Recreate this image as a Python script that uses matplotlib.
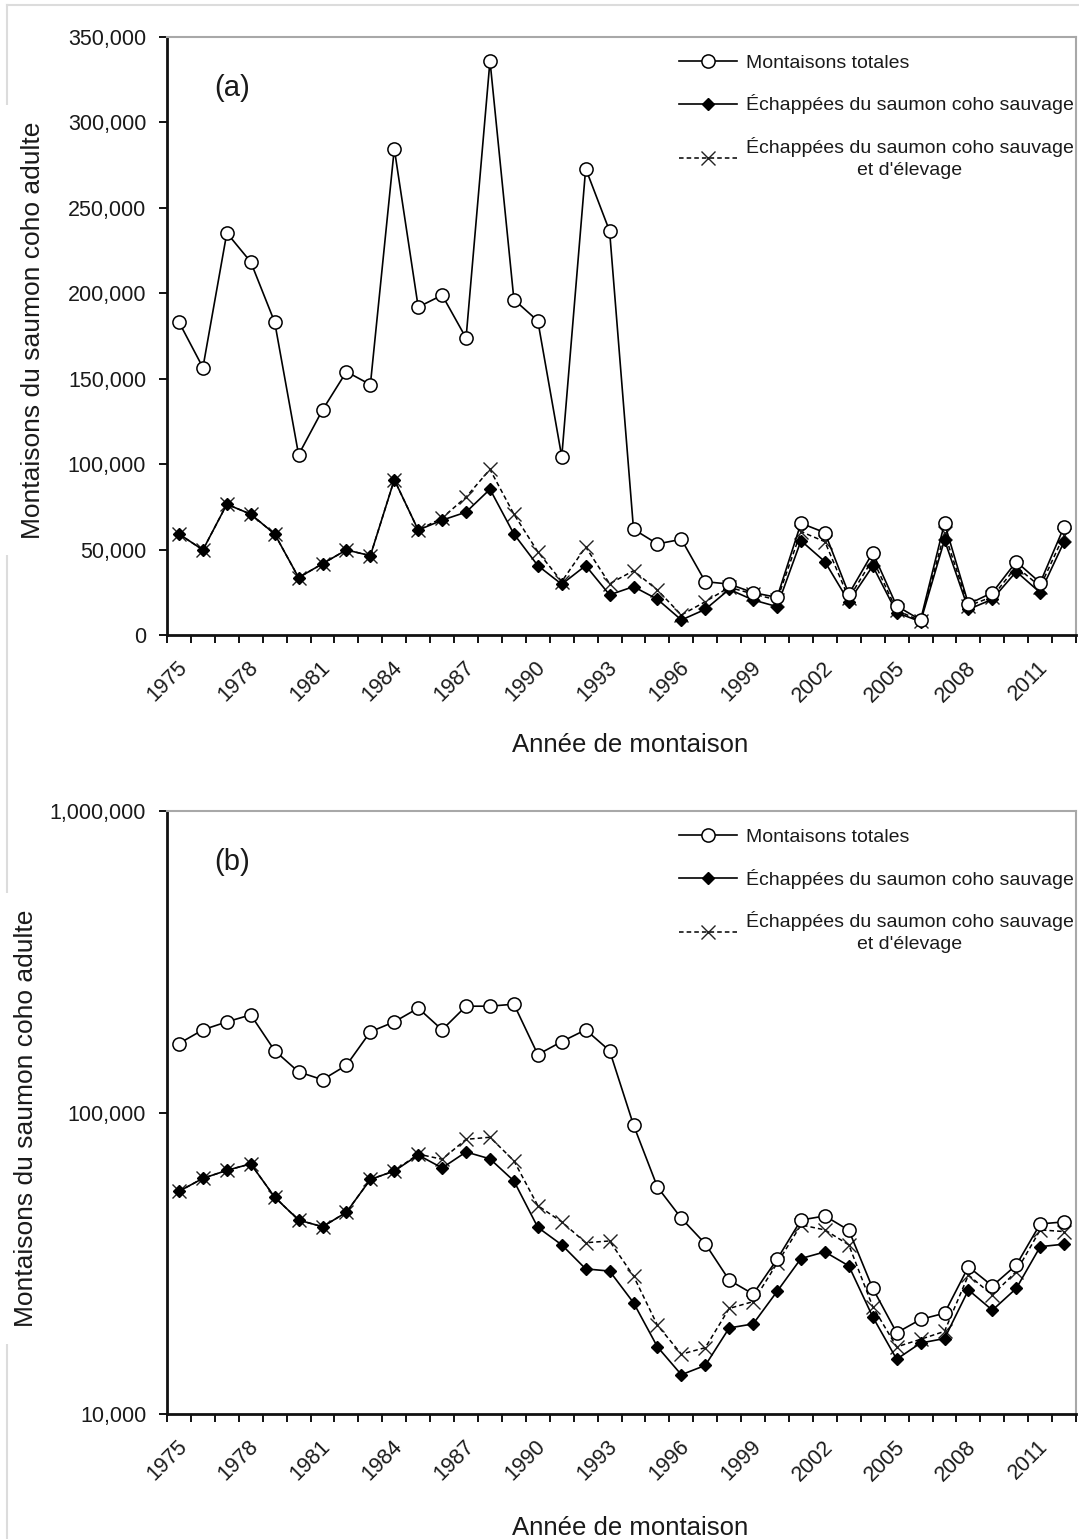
import numpy as np
import matplotlib.pyplot as plt
from matplotlib.ticker import FixedLocator, FuncFormatter, NullLocator, NullFormatter

plt.rcParams['font.family'] = ['Liberation Sans', 'DejaVu Sans']

# Years of return (one category per year)
years = list(range(1975, 2013))

# (a) linear scale
total_a = [183100, 156500, 235300, 218300, 183100, 105500, 131700, 154100, 146500, 284600,
           191900, 198900, 173800, 336100, 196300, 183800, 104300, 273000, 236400,
           61900, 53300, 56000, 31200, 29800, 24800, 22000, 65400, 59900, 24000, 48200,
           17000, 8800, 65400, 18100, 24800, 42900, 30600, 63400]
wild_a = [59100, 49800, 76500, 70700, 59100, 33600, 41700, 49800, 46400, 90900,
          61400, 67200, 71900, 85300, 59100, 40600, 29700, 40600, 23500,
          28300, 20900, 8800, 15000, 26700, 20500, 16600, 55200, 42900, 19500, 40400,
          13100, 7800, 55600, 15000, 20900, 37100, 24800, 54600]
both_a = [59100, 49800, 76500, 70700, 59100, 33600, 41700, 49800, 46400, 90900,
          61400, 68500, 80700, 96900, 70700, 48700, 31300, 51500, 30000,
          37600, 26300, 11700, 19500, 27900, 24000, 20500, 60500, 54600, 21500, 44300,
          14500, 8200, 59500, 17000, 22400, 40000, 28300, 58500]

# (b) log scale
total_b = [169400, 188100, 199900, 210900, 160400, 136400, 128500, 143500, 185300, 199900,
           222000, 188100, 225300, 225300, 228800, 155700, 171900, 188100, 160400,
           90900, 56600, 44600, 36700, 27800, 25000, 32600, 44000, 45400, 40700, 26100,
           18600, 20600, 21600, 30800, 26600, 31200, 42700, 43400]
wild_b = [54800, 60500, 64300, 67600, 52400, 44000, 41800, 46700, 60000, 64000,
          72300, 65500, 74000, 70200, 59300, 41600, 36400, 30300, 29800,
          23400, 16700, 13500, 14500, 19300, 19900, 25500, 32800, 34500, 31000, 21000,
          15200, 17200, 17800, 25800, 22100, 26100, 35900, 36600]
both_b = [54800, 60500, 64300, 67600, 52400, 44000, 41800, 46700, 60000, 64000,
          72800, 70000, 81500, 82800, 69200, 49100, 43400, 37000, 37500,
          28700, 19700, 15800, 16600, 22400, 23600, 31600, 42400, 40800, 36400, 22700,
          16700, 17700, 18800, 28900, 24800, 29700, 40800, 40300]

labels = ['Montaisons totales',
          'Échappées du saumon coho sauvage',
          "Échappées du saumon coho sauvage\net d'élevage"]

txt = '#1a1a1a'


def draw_panel(ax, total, wild, both, tag, log=False):
    l1, = ax.plot(years, total, color='black', lw=1.2, marker='o', ms=9.5,
                  mfc='white', mec='black', mew=1.1, zorder=4)
    l2, = ax.plot(years, wild, color='black', lw=1.2, marker='D', ms=6.5,
                  mfc='black', mec='black', zorder=3)
    l3, = ax.plot(years, both, color='black', lw=1.1, ls=(0, (3, 2)), marker='x',
                  ms=10, mew=1.0, mec='#222222', zorder=2)

    ax.set_xlim(years[0] - 0.5, years[-1] + 0.5)
    bounds = [y - 0.5 for y in years] + [years[-1] + 0.5]
    ax.xaxis.set_major_locator(FixedLocator(bounds))
    ax.xaxis.set_major_formatter(FuncFormatter(
        lambda v, p: str(int(v + 0.5)) if (int(v + 0.5) - 1975) % 3 == 0 and v < 2012 else ''))
    ax.tick_params(axis='x', length=6, width=1.3, direction='out', pad=10,
                   labelsize=15.5, labelrotation=45, labelcolor=txt)
    for t in ax.get_xticklabels():
        t.set_ha('center')

    if log:
        ax.set_yscale('log')
        ax.set_ylim(10000, 1000000)
        ax.yaxis.set_major_locator(FixedLocator([10000, 100000, 1000000]))
        ax.yaxis.set_minor_locator(NullLocator())
        ax.yaxis.set_minor_formatter(NullFormatter())
    else:
        ax.set_ylim(0, 350000)
        ax.yaxis.set_major_locator(FixedLocator(np.arange(0, 350001, 50000)))
    ax.yaxis.set_major_formatter(FuncFormatter(lambda v, p: f'{int(round(v)):,}'))
    ax.tick_params(axis='y', length=6, width=1.3, direction='out', pad=9,
                   labelsize=15.5, labelcolor=txt)

    for s in ('left', 'bottom'):
        ax.spines[s].set_linewidth(2)
        ax.spines[s].set_color('#111111')
    for s in ('top', 'right'):
        ax.spines[s].set_linewidth(1.5)
        ax.spines[s].set_color('#a8a8a8')

    ax.set_ylabel('Montaisons du saumon coho adulte', fontsize=19, color=txt,
                  bbox=dict(facecolor='white', edgecolor='none', pad=12))
    ax.set_xlabel('Année de montaison', fontsize=18.5, color=txt)

    ax.text(0.072, 0.915, tag, transform=ax.transAxes, fontsize=21,
            ha='center', va='center', color=txt)

    leg = ax.legend([l1, l2, l3], labels, loc='upper right',
                    bbox_to_anchor=(1.0165, 1.0), frameon=False,
                    fontsize=14, handlelength=3.0, handletextpad=0.45,
                    labelspacing=1.15, borderaxespad=0.3, borderpad=0.6)
    for t in leg.get_texts():
        t.set_multialignment('center')
        t.set_linespacing(1.4)
        t.set_color(txt)
    return ax


fig = plt.figure(figsize=(10.79, 15.39), dpi=100)

ax1 = fig.add_axes([0.1548, 0.5874, 0.8425, 0.3886])
draw_panel(ax1, total_a, wild_a, both_a, '(a)')
ax1.yaxis.set_label_coords(-0.134, 0.51)
ax1.xaxis.set_label_coords(0.509, -0.164)

ax2 = fig.add_axes([0.1548, 0.0812, 0.8425, 0.3918])
draw_panel(ax2, total_b, wild_b, both_b, '(b)', log=True)
ax2.yaxis.set_label_coords(-0.142, 0.49)
ax2.xaxis.set_label_coords(0.509, -0.169)

# faint outer frame (top and left edges)
fig.add_artist(plt.Line2D([7 / 1079, 1.0], [1 - 5 / 1539, 1 - 5 / 1539],
                          transform=fig.transFigure, color='#dcdcdc', lw=1.5, zorder=0))
fig.add_artist(plt.Line2D([7 / 1079, 7 / 1079], [0.0, 1 - 5 / 1539],
                          transform=fig.transFigure, color='#dcdcdc', lw=1.5, zorder=0))

fig.savefig('out.png', dpi=100)
